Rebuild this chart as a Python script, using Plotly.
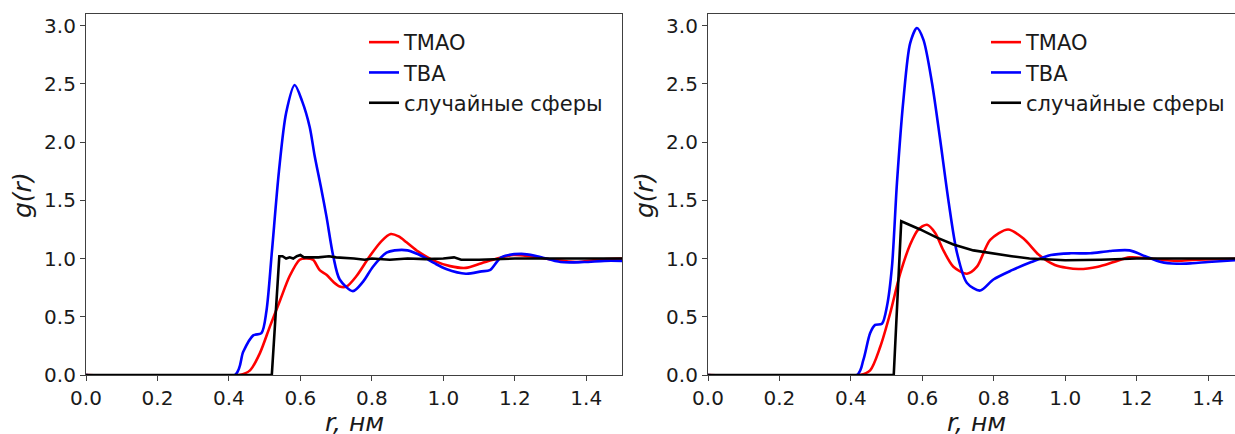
import plotly.graph_objects as go

W, H = 1235, 434
ML, MR, MT, MB = 86, 0, 14, 59
PW, PH = W - ML - MR, H - MT - MB

def px(xpix):
    return (xpix - ML) / PW

def py(ypix):
    return (H - MB - ypix) / PH

# ---------------- data: left panel ----------------
L_tmao_r = [0.0, 0.43, 0.459, 0.487, 0.515, 0.543, 0.570, 0.598, 0.615, 0.635, 0.654, 0.673, 0.692, 0.710,
            0.729, 0.757, 0.794, 0.827, 0.853, 0.875, 0.897, 0.930, 0.975, 1.019, 1.063, 1.107, 1.151,
            1.196, 1.24, 1.306, 1.372, 1.43, 1.5]
L_tmao_g = [0.0, 0.0, 0.04, 0.19, 0.42, 0.64, 0.85, 0.99, 1.00, 0.99, 0.90, 0.86, 0.80, 0.76,
            0.76, 0.85, 1.02, 1.15, 1.21, 1.19, 1.14, 1.06, 0.98, 0.935, 0.92, 0.96, 1.00,
            1.03, 1.02, 0.99, 0.97, 0.99, 1.0]

L_tba_r = [0.0, 0.417, 0.44, 0.468, 0.491, 0.505, 0.52, 0.54, 0.56, 0.584, 0.605, 0.626, 0.640, 0.657,
           0.673, 0.692, 0.710, 0.747, 0.775, 0.803, 0.841, 0.864, 0.90, 0.941, 0.975, 1.008, 1.063,
           1.107, 1.13, 1.162, 1.218, 1.262, 1.328, 1.394, 1.45, 1.5]
L_tba_g = [0.0, 0.0, 0.20, 0.34, 0.36, 0.55, 1.05, 1.75, 2.25, 2.49, 2.35, 2.13, 1.88, 1.62,
           1.36, 1.02, 0.82, 0.72, 0.80, 0.93, 1.05, 1.07, 1.07, 1.02, 0.96, 0.91, 0.87,
           0.89, 0.90, 1.01, 1.04, 1.02, 0.97, 0.97, 0.98, 0.98]

L_rand_r = [0.0, 0.52, 0.541, 0.55, 0.56, 0.57, 0.58, 0.59, 0.60, 0.61, 0.62, 0.65, 0.68, 0.70, 0.75,
            0.78, 0.80, 0.85, 0.90, 0.95, 1.00, 1.03, 1.05, 1.10, 1.20, 1.30, 1.40, 1.5]
L_rand_g = [0.0, 0.0, 1.02, 1.02, 1.00, 1.01, 1.00, 1.02, 1.03, 1.01, 1.01, 1.01, 1.02, 1.01, 1.00,
            0.99, 1.00, 0.99, 1.00, 0.995, 1.00, 1.01, 0.99, 0.99, 1.00, 1.00, 0.995, 1.0]

# ---------------- data: right panel ----------------
R_tmao_r = [0.0, 0.426, 0.454, 0.482, 0.510, 0.538, 0.566, 0.589, 0.613, 0.636, 0.659, 0.687, 0.725,
            0.753, 0.790, 0.840, 0.884, 0.927, 0.971, 1.037, 1.092, 1.136, 1.18, 1.235, 1.312, 1.367, 1.5]
R_tmao_g = [0.0, 0.0, 0.04, 0.24, 0.53, 0.87, 1.12, 1.25, 1.29, 1.22, 1.07, 0.93, 0.87,
            0.93, 1.16, 1.25, 1.17, 1.03, 0.945, 0.91, 0.93, 0.97, 1.01, 1.00, 0.98, 0.99, 1.0]

R_tba_r = [0.0, 0.417, 0.435, 0.454, 0.468, 0.487, 0.501, 0.515, 0.529, 0.547, 0.566, 0.585, 0.603,
           0.627, 0.650, 0.673, 0.697, 0.725, 0.762, 0.799, 0.851, 0.905, 0.960, 1.015, 1.07,
           1.125, 1.18, 1.224, 1.268, 1.312, 1.356, 1.40, 1.5]
R_tba_g = [0.0, 0.0, 0.13, 0.36, 0.43, 0.44, 0.59, 0.93, 1.65, 2.36, 2.85, 2.98, 2.88,
           2.51, 2.02, 1.50, 1.05, 0.79, 0.725, 0.82, 0.90, 0.97, 1.03, 1.045, 1.045,
           1.065, 1.07, 1.02, 0.97, 0.955, 0.96, 0.97, 0.99]

R_rand_r = [0.0, 0.52, 0.541, 0.594, 0.641, 0.687, 0.743, 0.80, 0.85, 0.90, 0.95, 1.00, 1.10, 1.20, 1.30, 1.5]
R_rand_g = [0.0, 0.0, 1.32, 1.25, 1.18, 1.12, 1.07, 1.04, 1.02, 1.00, 0.99, 0.985, 0.99, 1.00, 1.00, 1.0]

x_ticks = [0, 0.2, 0.4, 0.6, 0.8, 1.0, 1.2, 1.4]
x_ticktext = ["0.0", "0.2", "0.4", "0.6", "0.8", "1.0", "1.2", "1.4"]
y_ticks = [0, 0.5, 1.0, 1.5, 2.0, 2.5, 3.0]
y_ticktext = ["0.0", "0.5", "1.0", "1.5", "2.0", "2.5", "3.0"]

names = ["TMAO", "TBA", "случайные сферы"]
colors = ["#ff0000", "#0000ff", "#000000"]

fig = go.Figure()

def add(r, g, i, xa, ya, leg, shape):
    line = dict(color=colors[i], width=2.6, shape=shape)
    if shape == "spline":
        line["smoothing"] = 0.8
    fig.add_trace(go.Scatter(x=r, y=g, mode="lines", name=names[i], xaxis=xa, yaxis=ya,
                             legend=leg, line=line))

add(L_tmao_r, L_tmao_g, 0, "x", "y", "legend", "spline")
add(L_tba_r, L_tba_g, 1, "x", "y", "legend", "spline")
add(L_rand_r, L_rand_g, 2, "x", "y", "legend", "linear")
add(R_tmao_r, R_tmao_g, 0, "x2", "y2", "legend2", "spline")
add(R_tba_r, R_tba_g, 1, "x2", "y2", "legend2", "spline")
add(R_rand_r, R_rand_g, 2, "x2", "y2", "legend2", "linear")

FONT = "DejaVu Sans"
TXT = "#1a1a1a"
tickfont = dict(family=FONT, size=20, color=TXT)
linecol = "#404040"

common_x = dict(tickvals=x_ticks, ticktext=x_ticktext,
                ticks="outside", ticklen=5, tickwidth=1, tickcolor=linecol,
                showline=True, linecolor=linecol, linewidth=1.2, showgrid=False, zeroline=False,
                tickfont=tickfont, automargin=False)
common_y = dict(range=[0, 3.1], tickvals=y_ticks, ticktext=y_ticktext,
                ticks="outside", ticklen=5, tickwidth=1, tickcolor=linecol,
                showline=True, linecolor=linecol, linewidth=1.2, showgrid=False, zeroline=False,
                tickfont=tickfont, automargin=False)

r_right_max = (W - 708) / 357.2

fig.update_layout(
    width=W, height=H, margin=dict(l=ML, r=MR, t=MT, b=MB, autoexpand=False),
    paper_bgcolor="white", plot_bgcolor="white",
    xaxis=dict(domain=[0, px(622)], range=[0, 1.5], mirror=True, anchor="y", **common_x),
    yaxis=dict(domain=[0, 1], mirror=True, anchor="x", **common_y),
    xaxis2=dict(domain=[px(708), 1.0], range=[0, r_right_max], mirror=True, anchor="y2", **common_x),
    yaxis2=dict(domain=[0, 1], mirror=False, anchor="x2", **common_y),
    legend=dict(x=px(364), y=py(22), xanchor="left", yanchor="top",
                font=dict(family=FONT, size=21, color=TXT), bgcolor="rgba(0,0,0,0)"),
    legend2=dict(x=px(986), y=py(22), xanchor="left", yanchor="top",
                 font=dict(family=FONT, size=21, color=TXT), bgcolor="rgba(0,0,0,0)"),
    showlegend=True,
)

title_font = dict(family=FONT, size=25, color=TXT)
for xc in [(86 + 622) / 2, (708 + 708 + 536) / 2]:
    fig.add_annotation(text="<i>r, нм</i>", xref="paper", yref="paper", x=px(xc), y=py(439),
                       xanchor="center", yanchor="bottom", showarrow=False, font=title_font)
for xc in [22, 644]:
    fig.add_annotation(text="<i>g(r)</i>", xref="paper", yref="paper", x=px(xc), y=py(195),
                       xanchor="center", yanchor="middle", textangle=-90, showarrow=False, font=title_font)

fig.write_html("out.html", config={"displayModeBar": False},
               post_script="document.body.style.margin='0';document.body.style.overflow='hidden';")
